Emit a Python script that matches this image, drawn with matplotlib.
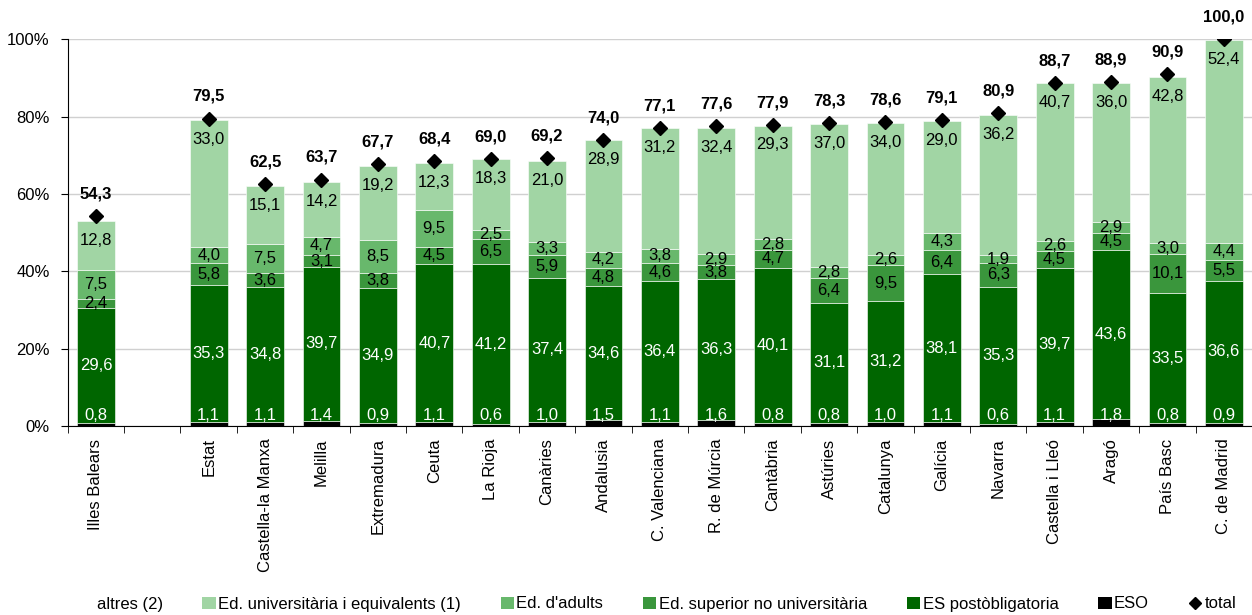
import matplotlib
matplotlib.use('Agg')
import matplotlib.pyplot as plt
import numpy as np
from matplotlib.patches import Patch
from matplotlib.lines import Line2D

plt.rcParams['font.family'] = ['Liberation Sans', 'DejaVu Sans']

# Data (empty string = blank gap slot)
regions = ['Illes Balears', '', 'Estat', 'Castella-la Manxa', 'Melilla', 'Extremadura',
           'Ceuta', 'La Rioja', 'Canàries', 'Andalusia', 'C. Valenciana', 'R. de Múrcia',
           'Cantàbria', 'Astúries', 'Catalunya', 'Galícia', 'Navarra', 'Castella i Lleó',
           'Aragó', 'País Basc', 'C. de Madrid']
eso = [0.8, None, 1.1, 1.1, 1.4, 0.9, 1.1, 0.6, 1.0, 1.5, 1.1, 1.6, 0.8, 0.8, 1.0, 1.1, 0.6, 1.1, 1.8, 0.8, 0.9]
es_post = [29.6, None, 35.3, 34.8, 39.7, 34.9, 40.7, 41.2, 37.4, 34.6, 36.4, 36.3, 40.1, 31.1, 31.2, 38.1, 35.3, 39.7, 43.6, 33.5, 36.6]
sup_no_univ = [2.4, None, 5.8, 3.6, 3.1, 3.8, 4.5, 6.5, 5.9, 4.8, 4.6, 3.8, 4.7, 6.4, 9.5, 6.4, 6.3, 4.5, 4.5, 10.1, 5.5]
adults = [7.5, None, 4.0, 7.5, 4.7, 8.5, 9.5, 2.5, 3.3, 4.2, 3.8, 2.9, 2.8, 2.8, 2.6, 4.3, 1.9, 2.6, 2.9, 3.0, 4.4]
univ = [12.8, None, 33.0, 15.1, 14.2, 19.2, 12.3, 18.3, 21.0, 28.9, 31.2, 32.4, 29.3, 37.0, 34.0, 29.0, 36.2, 40.7, 36.0, 42.8, 52.4]
total = [54.3, None, 79.5, 62.5, 63.7, 67.7, 68.4, 69.0, 69.2, 74.0, 77.1, 77.6, 77.9, 78.3, 78.6, 79.1, 80.9, 88.7, 88.9, 90.9, 100.0]

series = [('ESO', eso, '#000000', 'white'),
          ('ES postòbligatoria', es_post, '#006600', 'white'),
          ('Ed. superior no universitària', sup_no_univ, '#3a963c', 'black'),
          ('Ed. d\'adults', adults, '#68b86c', 'black'),
          ('Ed. universitària i equivalents (1)', univ, '#a1d5a4', 'black')]

fig = plt.figure(figsize=(12.52, 6.15), dpi=100)
ax = fig.add_axes([67.7 / 1252, 1 - 426 / 615, 1 - 67.7 / 1252, (426 - 39.3) / 615])

x = np.arange(len(regions))
idx = [i for i in x if total[i] is not None]
w = 0.67
fs = 12
bottom = np.zeros(len(idx))
for name, vals, col, tcol in series:
    v = np.array([vals[i] for i in idx])
    ax.bar(idx, v, w, bottom=bottom, color=col, edgecolor='white', linewidth=0.4, zorder=2)
    for xi, b, val in zip(idx, bottom, v):
        lab = f'{val:.1f}'.replace('.', ',')
        if name == 'ESO':
            ax.text(xi, 2.6, lab, ha='center', va='center', color=tcol, fontsize=fs, zorder=4)
        elif name.startswith('Ed. univ'):
            ax.annotate(lab, (xi, b + val), xytext=(0, -14), textcoords='offset points',
                        ha='center', va='center', color=tcol, fontsize=fs, zorder=4)
        else:
            ax.text(xi, b + val / 2, lab, ha='center', va='center', color=tcol, fontsize=fs, zorder=4)
    bottom = bottom + v

tot = [total[i] for i in idx]
ax.plot(idx, tot, linestyle='none', marker='D', color='black', markersize=7, zorder=5)
for xi, t in zip(idx, tot):
    ax.annotate(f'{t:.1f}'.replace('.', ','), (xi, t), xytext=(0, 16), textcoords='offset points',
                ha='center', va='center', fontsize=fs, fontweight='bold', annotation_clip=False)

ax.set_xlim(-0.5, len(regions) - 0.5)
ax.set_ylim(0, 100)
ax.set_yticks(np.arange(0, 101, 20))
ax.set_yticklabels([f'{v}%' for v in range(0, 101, 20)], fontsize=fs)
ax.yaxis.grid(True, color='#d0d0d0', linewidth=1, zorder=0)
ax.set_axisbelow(True)
ax.set_xticks(x)
ax.set_xticklabels(regions, rotation=90, fontsize=fs)
ax.tick_params(axis='x', length=0, pad=9)
ax.set_xticks(np.arange(-0.5, len(regions)), minor=True)
ax.tick_params(axis='x', which='minor', length=5, direction='out')
ax.tick_params(axis='y', length=5, direction='out', pad=8)
for s in ['top', 'right']:
    ax.spines[s].set_visible(False)

handles = [Patch(facecolor='white', edgecolor='none', label='altres (2)'),
           Patch(facecolor='#a1d5a4', label='Ed. universitària i equivalents (1)'),
           Patch(facecolor='#68b86c', label='Ed. d\'adults'),
           Patch(facecolor='#3a963c', label='Ed. superior no universitària'),
           Patch(facecolor='#006600', label='ES postòbligatoria'),
           Patch(facecolor='#000000', label='ESO'),
           Line2D([], [], linestyle='none', marker='D', color='black', markersize=6, label='total')]
fig.legend(handles=handles, loc='center', bbox_to_anchor=(0.526, 1 - 604 / 615), ncol=7,
           frameon=False, fontsize=fs, handlelength=0.8, handleheight=0.75,
           handletextpad=0.15, columnspacing=2.38)

fig.savefig('out.png', dpi=100)
